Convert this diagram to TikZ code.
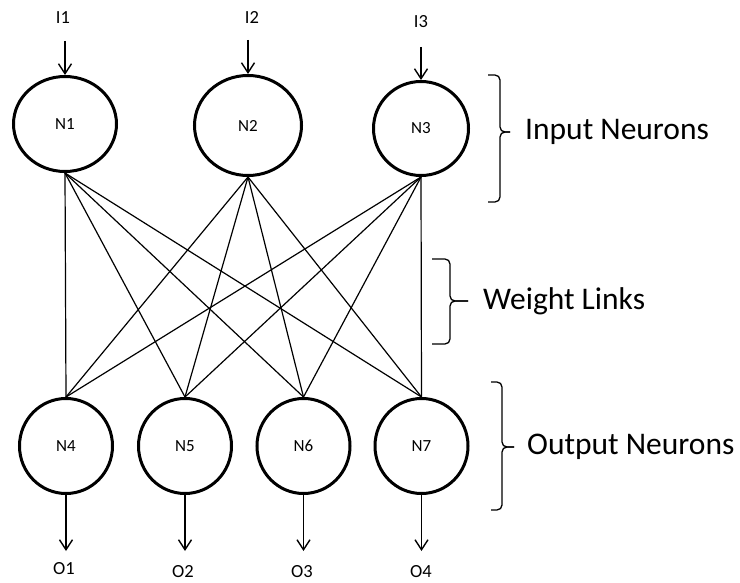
\documentclass[tikz,border=0pt]{standalone}
\usepackage{fontspec}
\setmainfont{Carlito}
\usetikzlibrary{shapes.geometric,arrows.meta}
\begin{document}
\begin{tikzpicture}[x=1pt,y=-1pt,
  neuron/.style={draw,ellipse,line width=3pt,inner sep=0pt,font=\fontsize{17}{17}\selectfont},
  iolabel/.style={inner sep=0pt,font=\fontsize{18.5}{18.5}\selectfont},
  biglabel/.style={inner sep=0pt,anchor=west,font=\fontsize{31.5}{32}\selectfont},
  link/.style={line width=1.2pt},
  arr/.style={line width=1.4pt,-{Straight Barb[length=10pt,width=13pt,line width=1.4pt]}},
  brace/.style={line width=1.3pt,rounded corners=5pt}]
\useasboundingbox (0,0) rectangle (740,583);
% input neurons
\node[neuron,minimum width=103pt,minimum height=95pt] (N1) at (65,124) {N1};
\node[neuron,minimum width=107pt,minimum height=100pt] (N2) at (248,125.5) {N2};
\node[neuron,minimum width=95pt,minimum height=94pt] (N3) at (421,128.5) {N3};
% output neurons
\node[neuron,minimum width=93pt,minimum height=95pt] (N4) at (66,446) {N4};
\node[neuron,minimum width=93pt,minimum height=95pt] (N5) at (185,446) {N5};
\node[neuron,minimum width=93pt,minimum height=95pt] (N6) at (303.5,446) {N6};
\node[neuron,minimum width=93pt,minimum height=95pt] (N7) at (421.5,446) {N7};
% input labels and arrows
\node[iolabel] (I1) at (63,18) {I1};
\node[iolabel] (I2) at (252,17) {I2};
\node[iolabel] (I3) at (421,22) {I3};
\coordinate (i1s) at (65,41);
\coordinate (i2s) at (248,40);
\coordinate (i3s) at (421,47);
\draw[arr] (i1s) -- (N1.north);
\draw[arr] (i2s) -- (N2.north);
\draw[arr] (i3s) -- (N3.north);
% output labels and arrows
\node[iolabel] (O1) at (64,569) {O1};
\node[iolabel] (O2) at (183,572) {O2};
\node[iolabel] (O3) at (302,572) {O3};
\node[iolabel] (O4) at (421,572) {O4};
\coordinate (o1e) at (66,551);
\coordinate (o2e) at (185,551);
\coordinate (o3e) at (303.5,551);
\coordinate (o4e) at (421.5,551);
\draw[arr] (N4.south) -- (o1e);
\draw[arr] (N5.south) -- (o2e);
\draw[arr] (N6.south) -- (o3e);
\draw[arr] (N7.south) -- (o4e);
% weight links
\foreach \a in {N1,N2,N3}{
  \foreach \b in {N4,N5,N6,N7}{
    \draw[link] (\a.south) -- (\b.north);
  }
}
% braces
\draw[brace] (488,75) -- (500,75) -- (500,132) -- (510,132);
\draw[brace] (488,202) -- (500,202) -- (500,132) -- (510,132);
\node[biglabel] (LIn) at (525,132) {Input Neurons};
\draw[brace] (432,259) -- (450,259) -- (450,301) -- (468,301);
\draw[brace] (432,344) -- (450,344) -- (450,301) -- (468,301);
\node[biglabel] (LW) at (483,301) {Weight Links};
\draw[brace] (491,382) -- (502,382) -- (502,447) -- (514,447);
\draw[brace] (491,510) -- (502,510) -- (502,447) -- (514,447);
\node[biglabel] (LOut) at (527,447) {Output Neurons};
\end{tikzpicture}
\end{document}
